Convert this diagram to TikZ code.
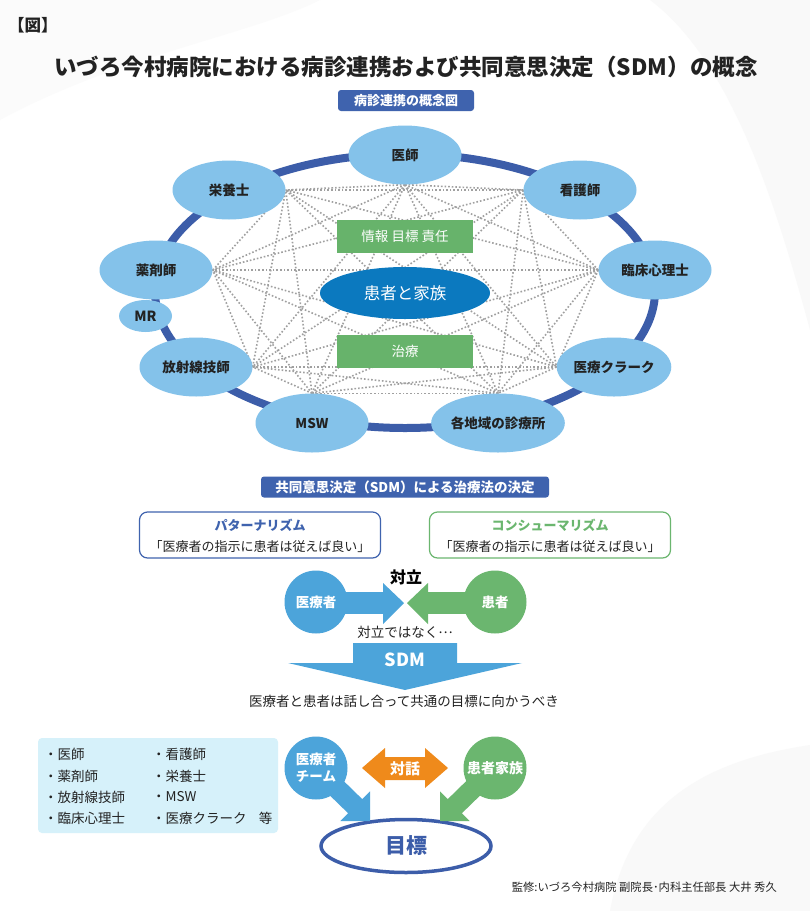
\documentclass[tikz,border=0pt]{standalone}
\usepackage{fontspec}
\setmainfont{Noto Sans CJK JP}
\usetikzlibrary{shapes.geometric}
\pgfdeclarelayer{bottom}
\pgfdeclarelayer{background}
\pgfsetlayers{bottom,background,main}
\definecolor{ringblue}{HTML}{3C5DA9}
\definecolor{lightblue}{HTML}{84C2EA}
\definecolor{coreblue}{HTML}{0B79BF}
\definecolor{boxgreen}{HTML}{67B36B}
\definecolor{hdrblue}{HTML}{3F63AE}
\definecolor{midblue}{HTML}{4CA4DA}
\definecolor{midgreen}{HTML}{6BB66F}
\definecolor{dorange}{HTML}{EF8A1B}
\definecolor{listbg}{HTML}{D6F1FA}
\definecolor{txt}{HTML}{222222}
\definecolor{dotgray}{HTML}{A0A0A0}
\begin{document}
\begin{tikzpicture}[x=1pt,y=-1pt,
  member/.style={ellipse, fill=lightblue, minimum width=113pt, minimum height=59pt, inner sep=0pt,
    font=\fontsize{13.5}{16}\selectfont\bfseries, text=txt},
  gbox/.style={rectangle, fill=boxgreen, minimum width=136pt, minimum height=33pt, inner sep=0pt,
    text=white, font=\fontsize{13.5}{16}\selectfont},
  hdr/.style={rectangle, fill=hdrblue, rounded corners=3pt, minimum height=21pt, inner sep=0pt,
    text=white, font=\fontsize{13}{15}\selectfont\bfseries},
  optbox/.style={rectangle, rounded corners=8pt, fill=white, line width=1.2pt, minimum width=241pt, minimum height=46pt, inner sep=0pt},
  bigdot/.style={circle, minimum size=63pt, inner sep=0pt, text=white, font=\fontsize{13.5}{17}\selectfont\bfseries, align=center},
  plain/.style={inner sep=0pt, text=txt, font=\fontsize{13.5}{16}\selectfont},
  listitem/.style={inner sep=0pt, anchor=west, text=txt, font=\fontsize{13.5}{16}\selectfont},
  dotline/.style={dotgray, line width=1.6pt, dash pattern=on 1.6pt off 2.0pt}
]
\useasboundingbox (0,0) rectangle (810,911);
\begin{pgfonlayer}{bottom}
\fill[white] (0,0) rectangle (810,911);
% faint background shapes
\fill[black!2.5] (810,0) -- (650,0) .. controls (730,60) and (775,200) .. (810,330) -- cycle;
\fill[black!1.5] (0,120) .. controls (120,55) and (250,35) .. (320,0) -- (0,0) -- cycle;
\fill[black!2.5] (610,911) .. controls (630,800) and (710,760) .. (810,745) -- (810,911) -- cycle;
\end{pgfonlayer}

% titles
\node[inner sep=0pt, anchor=west, text=txt, font=\fontsize{16.5}{19}\selectfont\bfseries] (fig) at (8,25) {【図】};
\node[inner sep=0pt, text=txt, font=\fontsize{22.5}{27}\selectfont\bfseries] (title) at (406,67) {いづろ今村病院における病診連携および共同意思決定（SDM）の概念};
\node[hdr, minimum width=136pt] (hdr1) at (406,100.5) {病診連携の概念図};

% ring members
\node[member] (ishi) at (405,155) {医師};
\node[member] (kango) at (580,190) {看護師};
\node[member] (rinsho) at (655,270) {臨床心理士};
\node[member] (clerk) at (614,367) {医療クラーク};
\node[member] (chiiki) at (498,423) {各地域の診療所};
\node[member] (msw) at (312,423) {MSW};
\node[member] (hosha) at (196,367) {放射線技師};
\node[member, minimum width=53pt, minimum height=32pt, font=\fontsize{14}{16}\selectfont\bfseries] (mr) at (145.5,316) {MR};
\node[member] (yaku) at (156,270) {薬剤師};
\node[member] (eiyo) at (229,190) {栄養士};

% centre
\node[gbox] (info) at (405,236) {情報 目標 責任};
\node[ellipse, fill=coreblue, minimum width=170pt, minimum height=52pt, inner sep=0pt, text=white,
  font=\fontsize{16.5}{19}\selectfont] (patient) at (405,293) {患者と家族};
\node[gbox] (treat) at (405,351) {治療};

\begin{pgfonlayer}{background}
  \draw[ringblue, line width=8pt] (405,291) ellipse [x radius=250, y radius=137];
  \foreach \a/\i in {ishi.south/1, kango.west/2, rinsho.west/3, clerk.west/4, chiiki.north/5, msw.north/6, hosha.east/7, yaku.east/8, eiyo.east/9}{
    \foreach \b/\j in {ishi.south/1, kango.west/2, rinsho.west/3, clerk.west/4, chiiki.north/5, msw.north/6, hosha.east/7, yaku.east/8, eiyo.east/9}{
      \ifnum\i<\j \draw[dotline] (\a) -- (\b); \fi
    }
  }
\end{pgfonlayer}

% SDM section
\node[hdr, minimum width=288pt, font=\fontsize{13.5}{16}\selectfont\bfseries] (hdr2) at (405,487) {共同意思決定（SDM）による治療法の決定};
\node[optbox, draw=hdrblue] (pat) at (260,535) {};
\node[inner sep=0pt, text=hdrblue, font=\fontsize{13}{15}\selectfont\bfseries] (patT) at (260,525.5) {パターナリズム};
\node[inner sep=0pt, text=txt, font=\fontsize{13}{15}\selectfont] (patS) at (260,547) {「医療者の指示に患者は従えば良い」};
\node[optbox, draw=midgreen] (con) at (550,535) {};
\node[inner sep=0pt, text=midgreen, font=\fontsize{13}{15}\selectfont\bfseries] (conT) at (550,525.5) {コンシューマリズム};
\node[inner sep=0pt, text=txt, font=\fontsize{13}{15}\selectfont] (conS) at (550,547) {「医療者の指示に患者は従えば良い」};

\fill[midblue] (330,592) rectangle (384,614);
\fill[midblue] (383,583) -- (404,603) -- (383,624) -- cycle;
\fill[midgreen] (427,592) rectangle (480,614);
\fill[midgreen] (428,583) -- (407,603) -- (428,624) -- cycle;
\node[bigdot, fill=midblue] (iryo) at (316,602) {医療者};
\node[bigdot, fill=midgreen] (kanja) at (495,602) {患者};
\node[inner sep=0pt, text=black, font=\fontsize{16}{18}\selectfont\bfseries] (tairitsu) at (406,577) {対立};
\node[plain] (naku) at (405,632) {対立ではなく\raisebox{0.28em}{…}};

\fill[midblue] (353,643) -- (457,643) -- (457,663) -- (522,663) -- (405,690) -- (288,663) -- (353,663) -- cycle;
\node[inner sep=0pt, text=white, font=\fontsize{18}{20}\selectfont\bfseries] (sdm) at (405,660) {SDM};
\node[plain] (should) at (404,701) {医療者と患者は話し合って共通の目標に向かうべき};

% list box
\node[rectangle, fill=listbg, rounded corners=4pt, minimum width=240pt, minimum height=95pt, inner sep=0pt] (list) at (158,785.5) {};
\node[listitem] (l1) at (44,754) {・医師};
\node[listitem] (l2) at (44,776) {・薬剤師};
\node[listitem] (l3) at (44,797) {・放射線技師};
\node[listitem] (l4) at (44,818) {・臨床心理士};
\node[listitem] (r1) at (152,754) {・看護師};
\node[listitem] (r2) at (152,776) {・栄養士};
\node[listitem] (r3) at (152,797) {・MSW};
\node[listitem] (r4) at (152,818) {・医療クラーク\hspace{0.9em}等};

% goal section
\node[ellipse, draw=ringblue, line width=3.5pt, fill=white, minimum width=170pt, minimum height=53pt, inner sep=0pt,
  text=ringblue, font=\fontsize{21}{24}\selectfont\bfseries] (goal) at (406,846) {目標};
\fill[midblue] (323.1,760.9) -- (362.2,799.1) -- (370,791.3) -- (370,821) -- (340.3,821) -- (348.1,813.2) -- (308.9,775.1) -- cycle;
\fill[midgreen] (486.9,760.9) -- (447.8,799.1) -- (440,791.3) -- (440,821) -- (469.7,821) -- (461.9,813.2) -- (501.1,775.1) -- cycle;
\node[bigdot, fill=midblue] (team) at (316,768) {医療者\\チーム};
\node[bigdot, fill=midgreen, font=\fontsize{14}{17}\selectfont\bfseries] (family) at (495,768) {患者家族};
\fill[dorange] (362,768) -- (385,748) -- (385,757) -- (425,757) -- (425,748) -- (448,768) -- (425,788) -- (425,780) -- (385,780) -- (385,788) -- cycle;
\node[inner sep=0pt, text=white, font=\fontsize{15}{17}\selectfont\bfseries] (taiwa) at (405,769) {対話};

\node[inner sep=0pt, anchor=east, text=txt, font=\fontsize{11.3}{13}\selectfont] (credit) at (777,887) {監修:いづろ今村病院 副院長･内科主任部長 大井 秀久};
\end{tikzpicture}
\end{document}
